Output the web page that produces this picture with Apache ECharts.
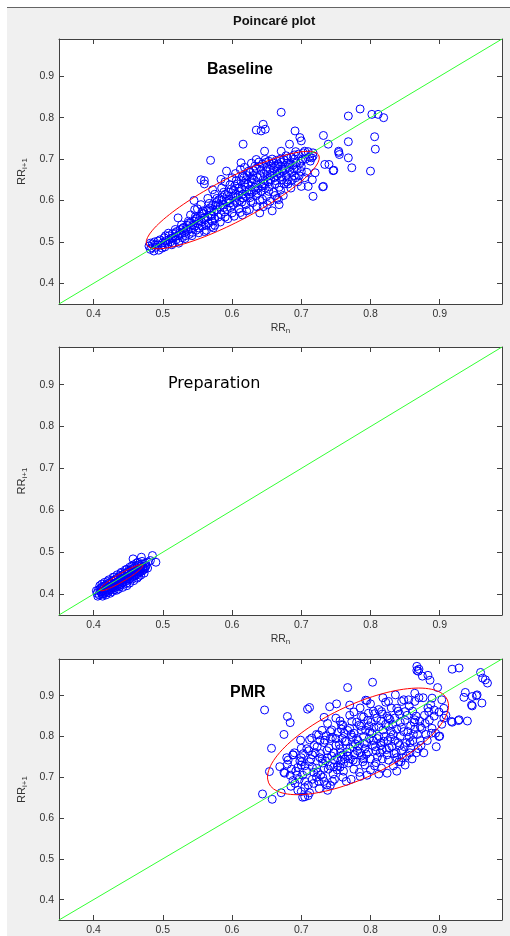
<!DOCTYPE html>
<html>
<head>
<meta charset="utf-8">
<script src="https://cdn.jsdelivr.net/npm/echarts@6/dist/echarts.min.js"></script>
<style>
  html, body { margin: 0; padding: 0; background: #fff; }
  #wrap { position: relative; width: 510px; height: 936px; overflow: hidden; }
  #figbg { position: absolute; left: 7px; top: 7px; right: 0; bottom: 0; background: #f0f0f0; border-top: 1px solid #646464; }
  #chart { position: absolute; left: 0; top: 0; width: 510px; height: 936px; }
</style>
</head>
<body>
<div id="wrap">
  <div id="figbg"></div>
  <div id="chart"></div>
</div>
<script>
// axis settings shared by the three panels
const axisRange = [0.35, 0.99]
const tickVals = [0.4, 0.5, 0.6, 0.7, 0.8, 0.9]
const panelNames = ['Baseline', 'Preparation', 'PMR']

// RR(n), RR(n+1) pairs
const baselinePts = [
  [0.480,0.490],[0.482,0.482],[0.485,0.495],[0.487,0.478],[0.488,0.500],[0.490,0.487],[0.492,0.493],[0.494,0.480],
  [0.496,0.505],[0.498,0.492],[0.500,0.498],[0.502,0.510],[0.503,0.488],[0.505,0.503],[0.507,0.495],[0.509,0.515],
  [0.511,0.500],[0.512,0.508],[0.514,0.520],[0.515,0.497],[0.517,0.512],[0.519,0.505],[0.520,0.525],[0.522,0.515],
  [0.524,0.503],[0.525,0.530],[0.527,0.520],[0.528,0.510],[0.530,0.535],[0.531,0.522],[0.533,0.515],[0.535,0.540],
  [0.536,0.528],[0.538,0.518],[0.540,0.545],[0.541,0.532],[0.543,0.523],[0.545,0.550],[0.546,0.538],[0.548,0.528],
  [0.549,0.557],[0.551,0.544],[0.553,0.533],[0.554,0.562],[0.556,0.548],[0.557,0.538],[0.559,0.568],[0.560,0.553],
  [0.562,0.540],[0.563,0.575],[0.565,0.560],[0.566,0.545],[0.568,0.582],[0.569,0.565],[0.571,0.550],[0.572,0.588],
  [0.574,0.572],[0.575,0.556],[0.577,0.595],[0.578,0.578],[0.580,0.560],[0.581,0.602],[0.583,0.585],[0.584,0.566],
  [0.586,0.608],[0.587,0.590],[0.589,0.572],[0.590,0.615],[0.592,0.597],[0.593,0.578],[0.595,0.620],[0.596,0.603],
  [0.598,0.583],[0.599,0.628],[0.601,0.610],[0.602,0.590],[0.604,0.635],[0.605,0.615],[0.607,0.595],[0.608,0.640],
  [0.610,0.622],[0.611,0.600],[0.613,0.648],[0.614,0.628],[0.616,0.606],[0.617,0.655],[0.619,0.633],[0.620,0.610],
  [0.622,0.660],[0.623,0.640],[0.625,0.615],[0.626,0.668],[0.628,0.645],[0.629,0.620],[0.631,0.672],[0.632,0.650],
  [0.634,0.625],[0.635,0.678],[0.637,0.655],[0.638,0.630],[0.640,0.682],[0.641,0.660],[0.643,0.635],[0.644,0.688],
  [0.646,0.665],[0.647,0.640],[0.649,0.692],[0.650,0.670],[0.652,0.645],[0.653,0.695],[0.655,0.675],[0.656,0.650],
  [0.658,0.700],[0.660,0.678],[0.661,0.655],[0.663,0.682],[0.665,0.660],[0.667,0.688],[0.669,0.665],[0.671,0.692],
  [0.673,0.670],[0.675,0.698],[0.677,0.675],[0.680,0.702],[0.682,0.680],[0.685,0.705],[0.688,0.685],[0.690,0.710],
  [0.693,0.690],[0.696,0.712],[0.700,0.695],[0.703,0.715],[0.706,0.700],[0.710,0.718],[0.712,0.705],
  [0.560,0.525],[0.575,0.540],[0.590,0.560],[0.600,0.570],[0.610,0.580],[0.615,0.565],[0.620,0.590],[0.630,0.595],
  [0.640,0.600],[0.645,0.585],[0.650,0.610],[0.655,0.598],[0.660,0.620],[0.665,0.605],[0.670,0.625],[0.675,0.640],
  [0.680,0.650],[0.685,0.630],[0.690,0.660],[0.695,0.645],[0.700,0.670],[0.705,0.655],[0.668,0.590],[0.658,0.575],
  [0.640,0.570],[0.625,0.578],
  [0.540,0.565],[0.550,0.580],[0.555,0.590],[0.565,0.605],[0.575,0.615],[0.585,0.630],[0.590,0.645],[0.600,0.655],
  [0.605,0.665],[0.612,0.675],[0.618,0.680],[0.628,0.690],[0.560,0.640],[0.555,0.650],[0.545,0.600],
  [0.595,0.600],[0.605,0.600],[0.615,0.615],[0.625,0.625],[0.635,0.640],[0.645,0.650],[0.655,0.660],[0.665,0.670],
  [0.580,0.590],[0.570,0.575],[0.585,0.600],[0.610,0.630],[0.620,0.650],[0.630,0.660],[0.650,0.680],[0.660,0.690],
  [0.670,0.700],[0.680,0.690],[0.690,0.700],[0.635,0.612],[0.642,0.622],[0.648,0.630],[0.662,0.640],[0.672,0.650],
  [0.678,0.660],[0.686,0.668],[0.694,0.675],[0.700,0.682],
  [0.503,0.498],[0.508,0.521],[0.513,0.493],[0.518,0.530],[0.523,0.497],[0.527,0.541],[0.532,0.508],[0.537,0.550],
  [0.542,0.515],[0.547,0.561],[0.552,0.522],[0.558,0.575],[0.563,0.528],[0.567,0.593],[0.573,0.534],[0.578,0.605],
  [0.583,0.548],[0.588,0.620],[0.594,0.556],[0.597,0.638],[0.603,0.562],[0.606,0.648],[0.612,0.571],[0.615,0.658],
  [0.621,0.575],[0.624,0.671],[0.627,0.598],[0.633,0.683],[0.636,0.585],[0.639,0.693],[0.644,0.603],[0.648,0.699],
  [0.651,0.590],[0.654,0.633],[0.657,0.687],[0.662,0.612],[0.664,0.697],[0.668,0.632],[0.672,0.676],[0.674,0.612],
  [0.678,0.708],[0.681,0.640],[0.684,0.690],[0.687,0.650],[0.692,0.718],[0.697,0.660],[0.702,0.700],[0.708,0.668],
  [0.713,0.695],[0.716,0.650],[0.588,0.583],[0.593,0.612],[0.597,0.594],[0.602,0.625],[0.606,0.608],[0.609,0.612],
  [0.614,0.596],[0.618,0.642],[0.621,0.620],[0.626,0.607],[0.629,0.652],[0.633,0.632],[0.637,0.617],[0.642,0.673],
  [0.645,0.641],[0.651,0.658],[0.653,0.622],[0.658,0.665],[0.663,0.648],[0.666,0.684],[0.671,0.658],[0.676,0.684],
  [0.679,0.645],[0.683,0.672],[0.689,0.677],[0.692,0.655],[0.698,0.690],[0.576,0.588],[0.571,0.563],[0.566,0.578],
  [0.561,0.559],[0.557,0.569],[0.552,0.551],[0.547,0.555],[0.543,0.540],[0.538,0.546],[0.533,0.530],[0.529,0.533],
  [0.524,0.518],[0.519,0.522],[0.514,0.510],[0.509,0.505],[0.504,0.515],[0.499,0.485],[0.493,0.502],[0.489,0.493],
  [0.484,0.486],[0.482,0.497],
  // scattered beats away from the band
  [0.671,0.813],[0.645,0.784],[0.635,0.770],[0.648,0.772],[0.642,0.768],[0.691,0.768],[0.700,0.744],[0.698,0.752],
  [0.616,0.736],[0.647,0.719],[0.683,0.736],[0.754,0.716],[0.569,0.697],[0.671,0.719],[0.705,0.719],[0.717,0.707],
  [0.746,0.672],[0.732,0.634],[0.717,0.610],[0.700,0.634],[0.710,0.634],[0.667,0.602],[0.592,0.671],[0.560,0.648],
  [0.613,0.691],[0.635,0.699],[0.584,0.651],[0.572,0.626],[0.546,0.578],[0.570,0.537],[0.522,0.558],
  [0.768,0.804],[0.785,0.821],[0.802,0.808],[0.811,0.808],[0.819,0.800],[0.732,0.757],[0.739,0.736],[0.768,0.742],
  [0.806,0.754],[0.807,0.724],[0.754,0.719],[0.755,0.711],[0.768,0.703],[0.773,0.679],[0.800,0.671],[0.734,0.687],
  [0.740,0.687],[0.747,0.673],[0.720,0.667],[0.731,0.633],[0.715,0.703],[0.717,0.715]
]

const preparationPts = [
  [0.405,0.402],[0.407,0.410],[0.408,0.398],[0.410,0.405],[0.411,0.415],[0.412,0.400],[0.414,0.408],[0.415,0.418],
  [0.416,0.403],[0.417,0.412],[0.418,0.422],[0.419,0.406],[0.420,0.415],[0.421,0.425],[0.422,0.409],[0.423,0.418],
  [0.424,0.428],[0.425,0.411],[0.426,0.421],[0.427,0.431],[0.428,0.414],[0.429,0.424],[0.430,0.434],[0.431,0.416],
  [0.432,0.427],[0.433,0.437],[0.434,0.419],[0.435,0.430],[0.436,0.440],[0.437,0.421],[0.438,0.432],[0.439,0.443],
  [0.440,0.424],[0.441,0.435],[0.442,0.446],[0.443,0.427],[0.444,0.438],[0.445,0.449],[0.446,0.430],[0.447,0.441],
  [0.448,0.452],[0.449,0.433],[0.450,0.444],[0.451,0.455],[0.452,0.436],[0.453,0.447],[0.454,0.458],[0.455,0.440],
  [0.456,0.450],[0.457,0.461],[0.458,0.443],[0.459,0.453],[0.460,0.464],[0.461,0.446],[0.462,0.456],[0.463,0.467],
  [0.464,0.449],[0.465,0.459],[0.466,0.470],[0.467,0.452],[0.468,0.462],[0.470,0.472],[0.471,0.456],[0.472,0.465],
  [0.474,0.460],[0.476,0.468],[0.478,0.462],[0.475,0.474],
  [0.409,0.420],[0.413,0.395],[0.418,0.398],[0.424,0.402],[0.427,0.406],[0.433,0.409],[0.436,0.412],[0.442,0.416],
  [0.448,0.420],[0.452,0.426],[0.458,0.432],[0.463,0.438],[0.468,0.445],[0.473,0.450],[0.416,0.428],[0.422,0.434],
  [0.428,0.440],[0.434,0.446],[0.440,0.452],[0.446,0.458],[0.452,0.464],[0.458,0.470],[0.462,0.474],[0.406,0.395],
  [0.411,0.405],[0.419,0.411],[0.426,0.416],[0.431,0.422],[0.437,0.428],[0.443,0.433],[0.449,0.439],[0.454,0.445],
  [0.460,0.451],[0.466,0.456],[0.471,0.462],
  [0.404,0.408],[0.409,0.412],[0.413,0.418],[0.417,0.405],[0.421,0.418],[0.425,0.425],[0.428,0.420],[0.432,0.433],
  [0.435,0.424],[0.439,0.438],[0.442,0.428],[0.445,0.443],[0.448,0.436],[0.451,0.449],[0.455,0.452],[0.459,0.445],
  [0.462,0.461],[0.465,0.452],[0.468,0.467],[0.472,0.459],[0.475,0.466],[0.414,0.400],[0.421,0.404],[0.430,0.410],
  [0.438,0.418],[0.447,0.425],[0.456,0.436],[0.465,0.442],[0.412,0.424],[0.420,0.430],[0.430,0.441],[0.439,0.449],
  [0.448,0.459],[0.455,0.467],[0.464,0.476],[0.470,0.478],
  [0.469,0.488],[0.485,0.492],[0.490,0.476],[0.478,0.476],[0.457,0.484],[0.482,0.480]
]

const pmrPts = [
  [0.695,0.668],[0.705,0.675],[0.712,0.662],[0.718,0.685],[0.726,0.672],[0.733,0.690],[0.742,0.680],[0.748,0.695],
  [0.705,0.690],[0.688,0.692],[0.760,0.700],[0.772,0.695],[0.785,0.702],[0.722,0.700],[0.710,0.655],[0.738,0.668],
  [0.675,0.712],[0.686,0.720],[0.694,0.705],[0.700,0.730],[0.708,0.715],[0.716,0.725],[0.724,0.712],[0.731,0.735],
  [0.739,0.720],[0.746,0.708],[0.753,0.728],[0.761,0.715],[0.768,0.735],[0.776,0.720],[0.784,0.712],[0.792,0.730],
  [0.800,0.718],[0.808,0.736],[0.816,0.722],[0.824,0.710],[0.833,0.728],[0.841,0.738],[0.712,0.738],[0.728,0.705],
  [0.757,0.740],[0.795,0.705],[0.812,0.708],[0.838,0.715],[0.850,0.730],[0.680,0.732],[0.698,0.740],
  [0.690,0.760],[0.700,0.748],[0.708,0.770],[0.716,0.755],[0.723,0.775],[0.730,0.745],[0.737,0.765],[0.744,0.752],
  [0.750,0.778],[0.757,0.760],[0.763,0.745],[0.770,0.770],[0.777,0.755],[0.783,0.776],[0.790,0.745],[0.797,0.762],
  [0.803,0.778],[0.810,0.750],[0.817,0.768],[0.824,0.755],[0.831,0.776],[0.838,0.748],[0.845,0.765],[0.852,0.752],
  [0.858,0.772],[0.866,0.760],[0.873,0.778],[0.740,0.772],[0.760,0.755],[0.775,0.742],[0.792,0.770],[0.808,0.765],
  [0.826,0.742],[0.842,0.778],[0.860,0.745],[0.748,0.742],[0.720,0.760],[0.785,0.760],[0.800,0.745],[0.815,0.778],
  [0.768,0.752],
  [0.712,0.792],[0.722,0.805],[0.733,0.785],[0.742,0.812],[0.750,0.795],[0.758,0.818],[0.765,0.788],[0.772,0.805],
  [0.780,0.795],[0.787,0.815],[0.795,0.785],[0.802,0.808],[0.810,0.795],[0.818,0.816],[0.825,0.790],[0.833,0.805],
  [0.840,0.785],[0.848,0.812],[0.856,0.798],[0.864,0.818],[0.872,0.790],[0.880,0.805],[0.755,0.780],[0.770,0.820],
  [0.790,0.800],[0.805,0.822],[0.820,0.800],[0.838,0.818],[0.852,0.785],[0.868,0.805],[0.730,0.815],[0.745,0.798],
  [0.762,0.808],[0.778,0.782],[0.798,0.795],[0.815,0.785],[0.830,0.812],
  [0.738,0.832],[0.750,0.845],[0.760,0.828],[0.770,0.852],[0.780,0.835],[0.790,0.848],[0.798,0.826],[0.806,0.856],
  [0.815,0.838],[0.824,0.850],[0.832,0.830],[0.842,0.855],[0.850,0.840],[0.858,0.826],[0.866,0.850],[0.776,0.860],
  [0.796,0.840],[0.812,0.824],[0.828,0.842],[0.845,0.822],[0.786,0.825],[0.756,0.838],
  [0.785,0.870],[0.800,0.880],[0.812,0.866],[0.822,0.884],[0.830,0.870],[0.840,0.862],[0.848,0.890],[0.856,0.875],
  [0.870,0.895],[0.818,0.895],[0.804,0.862],[0.795,0.888],
  [0.700,0.665],[0.710,0.681],[0.737,0.681],[0.725,0.690],[0.705,0.652],[0.691,0.685],[0.676,0.710],[0.669,0.726],
  [0.681,0.742],[0.688,0.755],[0.700,0.771],[0.715,0.796],[0.725,0.804],[0.734,0.791],[0.744,0.816],[0.758,0.829],
  [0.773,0.837],[0.787,0.849],[0.797,0.857],[0.816,0.861],[0.826,0.845],
  [0.722,0.722],[0.728,0.758],[0.735,0.740],[0.741,0.728],[0.747,0.760],[0.752,0.748],[0.756,0.770],[0.761,0.733],
  [0.766,0.762],[0.771,0.745],[0.775,0.775],[0.779,0.738],[0.782,0.790],[0.787,0.752],[0.791,0.783],[0.794,0.757],
  [0.799,0.812],[0.804,0.790],[0.807,0.775],[0.812,0.800],[0.814,0.760],[0.819,0.788],[0.822,0.830],[0.827,0.772],
  [0.829,0.798],[0.835,0.790],[0.837,0.760],[0.843,0.800],[0.846,0.748],[0.849,0.775],[0.854,0.812],[0.857,0.760],
  [0.861,0.790],[0.863,0.835],[0.869,0.770],[0.874,0.820],[0.877,0.760],[0.882,0.790],[0.885,0.840],[0.888,0.808],
  [0.892,0.850],[0.895,0.775],[0.899,0.860],[0.903,0.830],[0.909,0.852],[0.765,0.690],[0.745,0.690],[0.752,0.718],
  [0.733,0.722],[0.718,0.712],[0.727,0.748],[0.703,0.758],[0.695,0.724],[0.705,0.728],[0.714,0.745],[0.738,0.748],
  [0.756,0.725],[0.763,0.788],[0.781,0.765],[0.789,0.738],[0.806,0.728],[0.817,0.745],[0.823,0.768],[0.834,0.758],
  [0.844,0.738],[0.857,0.785],[0.862,0.805],[0.871,0.838],[0.878,0.852],[0.883,0.870],[0.887,0.878],[0.892,0.865],
  [0.876,0.895],[0.759,0.795],[0.767,0.815],[0.774,0.798],[0.776,0.808],[0.784,0.828],[0.793,0.815],[0.801,0.835],
  [0.809,0.845],[0.817,0.855],[0.826,0.825],[0.835,0.845],[0.843,0.835],[0.853,0.852],[0.861,0.862],[0.753,0.810],
  [0.742,0.795],[0.736,0.802],[0.727,0.790],[0.719,0.778],[0.711,0.765],[0.701,0.738],[0.692,0.715],[0.684,0.705],
  [0.697,0.695],[0.685,0.678],[0.702,0.705],[0.716,0.695],[0.731,0.700],[0.747,0.725],
  // points outside the ellipse
  [0.647,0.865],[0.867,0.972],[0.867,0.962],[0.870,0.965],[0.918,0.965],[0.928,0.968],[0.959,0.957],[0.962,0.943],
  [0.966,0.939],[0.969,0.931],[0.937,0.908],[0.935,0.896],[0.953,0.900],[0.961,0.882],[0.947,0.875],[0.940,0.838],
  [0.928,0.841],[0.918,0.835],[0.900,0.801],[0.886,0.938],[0.883,0.950],[0.897,0.920],[0.803,0.933],[0.767,0.920],
  [0.712,0.871],[0.709,0.867],[0.680,0.849],[0.684,0.834],[0.675,0.805],[0.657,0.771],[0.654,0.714],[0.644,0.659],
  [0.658,0.646],[0.702,0.651],[0.671,0.662],[0.741,0.873],[0.751,0.880],[0.770,0.877],[0.793,0.889],[0.733,0.847],
  [0.699,0.791],[0.688,0.755],[0.679,0.748],[0.869,0.960],[0.875,0.948],[0.947,0.898],[0.946,0.877],[0.954,0.902],
  [0.917,0.837],[0.927,0.839],[0.899,0.800],[0.884,0.861],[0.889,0.894],[0.903,0.890],[0.906,0.869],[0.906,0.845],
  [0.864,0.886],[0.864,0.841],[0.872,0.824],[0.879,0.832],[0.889,0.820],[0.894,0.808],[0.845,0.886],[0.836,0.902],
  [0.855,0.890],[0.826,0.886],[0.838,0.869],[0.850,0.861],[0.864,0.906]
]

// fitted ellipses: centre x, centre y, half major, half minor, angle (deg)
const baselineEllipse = [0.601, 0.601, 0.166, 0.044, 43]
const preparationEllipse = [0.440, 0.439, 0.044, 0.008, 45]
const pmrEllipse = [0.782, 0.788, 0.169, 0.075, 45]

const grids = [
  { left: 59, top: 39, width: 443, height: 265 },
  { left: 59, top: 347, width: 443, height: 268 },
  { left: 59, top: 659, width: 443, height: 263 }
]

const ellipsePath = (e) => {
  const [cx, cy, a, b, deg] = e
  const r = deg * Math.PI / 180
  const out = []
  for (let i = 0; i <= 120; i++) {
    const t = i / 120 * Math.PI * 2
    out.push([
      cx + a * Math.cos(t) * Math.cos(r) - b * Math.sin(t) * Math.sin(r),
      cy + a * Math.cos(t) * Math.sin(r) + b * Math.sin(t) * Math.cos(r)
    ])
  }
  return out
}

const axisColor = '#404040'
const tickStyle = { inside: true, length: 5, customValues: tickVals, lineStyle: { color: axisColor } }

const makeX = (gi, pos) => ({
  type: 'value', gridIndex: gi, position: pos,
  min: axisRange[0], max: axisRange[1],
  axisLine: { onZero: false, lineStyle: { color: axisColor, width: 1 } },
  splitLine: { show: false },
  axisTick: tickStyle,
  axisLabel: {
    show: pos === 'bottom', customValues: tickVals, margin: 5,
    formatter: (v) => v.toFixed(1), color: '#333', fontSize: 10.5, fontFamily: 'Liberation Sans'
  },
  name: pos === 'bottom' && gi < 2 ? 'RR{s|n}' : '',
  nameLocation: 'middle', nameGap: 17,
  nameTextStyle: {
    color: '#333', fontSize: 10.5, fontFamily: 'Liberation Sans',
    rich: { s: { fontSize: 8, padding: [6, 0, 0, 0], color: '#333', fontFamily: 'Liberation Sans' } }
  }
})

const makeY = (gi, pos) => ({
  type: 'value', gridIndex: gi, position: pos,
  min: axisRange[0], max: axisRange[1],
  axisLine: { onZero: false, lineStyle: { color: axisColor, width: 1 } },
  splitLine: { show: false },
  axisTick: tickStyle,
  axisLabel: {
    show: pos === 'left', customValues: tickVals, margin: 5,
    formatter: (v) => v.toFixed(1), color: '#333', fontSize: 10.5, fontFamily: 'Liberation Sans'
  },
  name: pos === 'left' ? 'RR{s|i+1}' : '',
  nameLocation: 'middle', nameGap: 24, nameRotate: 90,
  nameTextStyle: {
    color: '#333', fontSize: 11, fontFamily: 'Liberation Sans',
    rich: { s: { fontSize: 8, padding: [6, 0, 0, 0], color: '#333', fontFamily: 'Liberation Sans' } }
  }
})

const xAxis = []
const yAxis = []
grids.forEach((g, i) => {
  xAxis.push(makeX(i, 'bottom'), makeX(i, 'top'))
  yAxis.push(makeY(i, 'left'), makeY(i, 'right'))
})

const pointSets = [baselinePts, preparationPts, pmrPts]
const ellipseSets = [baselineEllipse, preparationEllipse, pmrEllipse]

const series = []
pointSets.forEach((pts, i) => {
  series.push({
    name: panelNames[i], type: 'scatter', xAxisIndex: i * 2, yAxisIndex: i * 2,
    symbol: 'circle', symbolSize: 8, data: pts, silent: true,
    itemStyle: { color: 'rgba(0,0,0,0)', borderColor: '#0000ff', borderWidth: 1, opacity: 1 }
  })
  series.push({
    type: 'line', xAxisIndex: i * 2, yAxisIndex: i * 2, data: ellipsePath(ellipseSets[i]),
    showSymbol: false, silent: true, z: 3,
    lineStyle: { color: '#ff0000', width: 1 }
  })
  series.push({
    type: 'line', xAxisIndex: i * 2, yAxisIndex: i * 2,
    data: [[axisRange[0], axisRange[0]], [axisRange[1], axisRange[1]]],
    showSymbol: false, silent: true, z: 4,
    lineStyle: { color: '#33ff33', width: 1 }
  })
})

const chart = echarts.init(document.getElementById('chart'))
chart.setOption({
  animation: false,
  backgroundColor: 'transparent',
  grid: grids.map(g => Object.assign({ show: true, backgroundColor: '#fff', borderWidth: 0 }, g)),
  xAxis, yAxis, series,
  graphic: [
    { type: 'text', left: 233, top: 15, style: { text: 'Poincaré plot', font: 'bold 13px "Liberation Sans"', fill: '#111' } },
    { type: 'text', left: 207, top: 62, z: 10, style: { text: panelNames[0], font: 'bold 16px "Liberation Sans"', fill: '#000' } },
    { type: 'text', left: 168, top: 376, z: 10, style: { text: panelNames[1], font: '16px "DejaVu Sans"', fill: '#000' } },
    { type: 'text', left: 230, top: 685, z: 10, style: { text: panelNames[2], font: 'bold 16px "Liberation Sans"', fill: '#000' } }
  ]
})
</script>
</body>
</html>
